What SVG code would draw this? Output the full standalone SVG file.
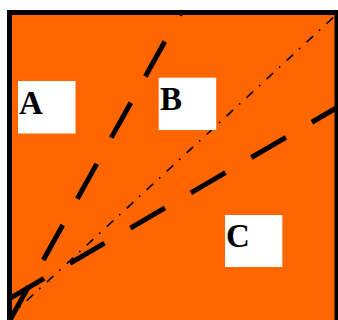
<svg xmlns="http://www.w3.org/2000/svg" width="338" height="320" viewBox="0 0 338 320">
<style>
.dash{stroke:#000;stroke-width:5;fill:none;stroke-dasharray:40 30;stroke-linecap:butt}
.dd{stroke:#000;stroke-width:1.6;fill:none;stroke-dasharray:9 8 1.6 8.6;stroke-dashoffset:3}
.box{fill:#fff;stroke:none}
.lbl{font-family:"Liberation Serif","Times New Roman",serif;font-weight:bold;font-size:33px;fill:#000}
</style>
<rect width="338" height="320" fill="#fff"/>
<rect id="field" x="9.5" y="12.5" width="327.5" height="330" fill="#FF6600"/>
<g id="connectors">
<line class="dash" x1="9.3" y1="321.2" x2="181.2" y2="12"/>
<line class="dash" x1="9.5" y1="298.6" x2="338" y2="107"/>
<line class="dd" x1="9" y1="317" x2="336" y2="15"/>
</g>
<g id="A"><rect class="box" x="18" y="81" width="57.5" height="52.5"/><text class="lbl" x="19" y="114">A</text></g>
<g id="B"><rect class="box" x="158.7" y="77.7" width="57.5" height="52.3"/><text class="lbl" x="160" y="110">B</text></g>
<g id="C"><rect class="box" x="225" y="215" width="57.3" height="52"/><text class="lbl" x="226" y="247">C</text></g>
<rect id="frame" x="9.5" y="12.5" width="327.5" height="330" fill="none" stroke="#000" stroke-width="5"/>
</svg>
